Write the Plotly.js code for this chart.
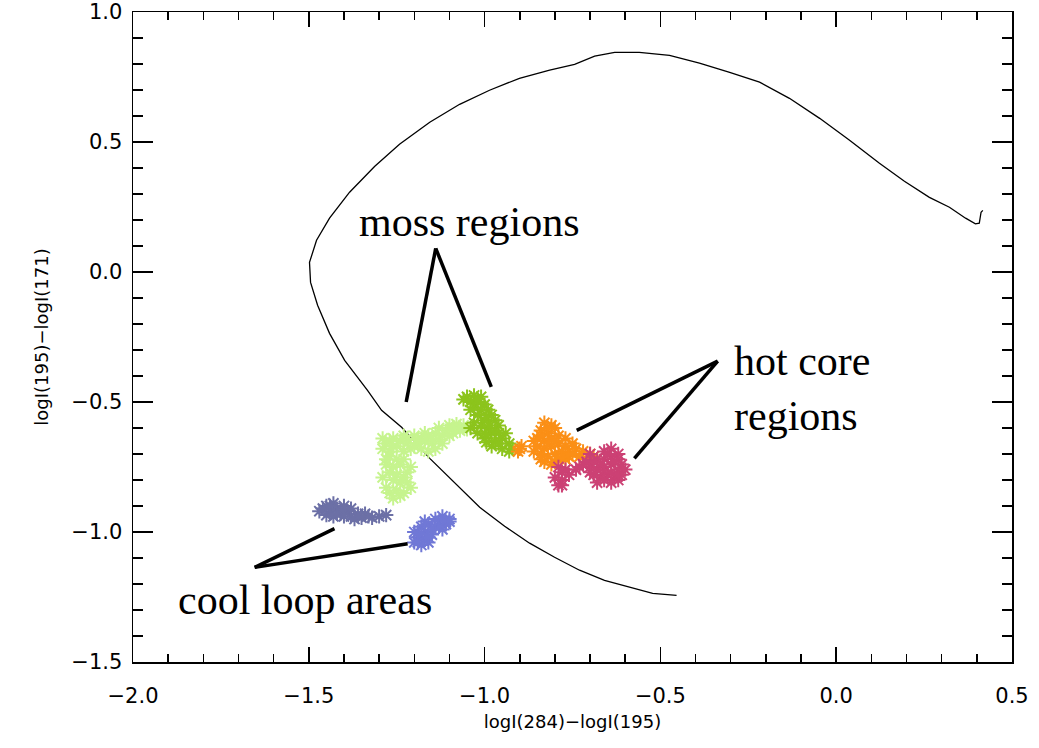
<!DOCTYPE html>
<html>
<head>
<meta charset="utf-8">
<script src="https://cdn.plot.ly/plotly-3.0.1.min.js"></script>
<style>html,body{margin:0;padding:0;background:#fff;}#chart{width:1039px;height:748px;}</style>
</head>
<body>
<div id="chart"></div>
<script>
// Model curve
const curveX = [0.417,0.412,0.407,0.396,0.368,0.322,0.265,0.194,0.123,0.038,-0.047,-0.133,-0.218,-0.303,-0.389,-0.474,-0.560,-0.630,-0.687,-0.744,-0.815,-0.901,-0.986,-1.071,-1.156,-1.242,-1.313,-1.384,-1.441,-1.478,-1.498,-1.495,-1.475,-1.441,-1.398,-1.333,-1.293,-1.236,-1.156,-1.085,-1.014,-0.943,-0.872,-0.801,-0.730,-0.659,-0.588,-0.522,-0.454];
const curveY = [0.237,0.230,0.188,0.185,0.207,0.249,0.287,0.349,0.418,0.507,0.591,0.668,0.730,0.768,0.803,0.833,0.845,0.845,0.830,0.799,0.776,0.745,0.699,0.645,0.576,0.491,0.406,0.307,0.207,0.122,0.037,-0.040,-0.128,-0.236,-0.340,-0.455,-0.532,-0.597,-0.717,-0.813,-0.905,-0.978,-1.043,-1.097,-1.147,-1.186,-1.213,-1.236,-1.244];

// Moss region (left, light green)
const mossAX = [-1.10,-1.08,-1.06,-1.07,-1.09,-1.11,-1.12,-1.14,-1.05,-1.16,-1.18,-1.20,-1.22,-1.24,-1.26,-1.28,-1.29,-1.27,-1.25,-1.22,-1.19,-1.17,-1.15,-1.13,-1.21,-1.18,-1.16,-1.14,-1.27,-1.25,-1.28,-1.26,-1.24,-1.27,-1.25,-1.23,-1.22,-1.26,-1.24,-1.25,-1.27,-1.23,-1.21,-1.28,
  -1.09,-1.07,-1.13,-1.15,-1.17,-1.19,-1.23,-1.27,-1.29,-1.26,-1.20,-1.23,-1.12,-1.10,-1.28,-1.23,-1.21,-1.29,-1.22,-1.26,-1.24];
const mossAY = [-0.59,-0.585,-0.59,-0.61,-0.62,-0.61,-0.63,-0.62,-0.605,-0.63,-0.64,-0.63,-0.64,-0.65,-0.64,-0.66,-0.68,-0.69,-0.67,-0.66,-0.66,-0.65,-0.66,-0.645,-0.68,-0.68,-0.69,-0.68,-0.71,-0.72,-0.74,-0.75,-0.74,-0.77,-0.78,-0.79,-0.77,-0.80,-0.81,-0.84,-0.85,-0.85,-0.83,-0.83,
  -0.60,-0.60,-0.60,-0.64,-0.62,-0.645,-0.63,-0.65,-0.64,-0.67,-0.67,-0.69,-0.66,-0.63,-0.72,-0.72,-0.75,-0.79,-0.81,-0.87,-0.86];
// Moss region (right, green)
const mossBX = [-1.05,-1.03,-1.01,-1.04,-1.02,-1.00,-1.03,-1.01,-0.99,-1.02,-0.98,-1.00,-0.97,-1.01,-0.99,-0.96,-1.02,-0.98,-0.96,-1.00,-0.97,-0.95,-0.93,-0.95,-0.93,-1.04,-0.995,
  -1.06,-1.02,-1.04,-0.995,-0.97,-0.94,-0.98,-0.96,-0.92,-1.03,-1.00,-0.985];
const mossBY = [-0.48,-0.475,-0.48,-0.50,-0.50,-0.51,-0.52,-0.53,-0.53,-0.55,-0.55,-0.57,-0.57,-0.59,-0.60,-0.59,-0.62,-0.62,-0.62,-0.64,-0.65,-0.64,-0.66,-0.68,-0.69,-0.60,-0.655,
  -0.49,-0.49,-0.53,-0.56,-0.61,-0.62,-0.67,-0.66,-0.68,-0.58,-0.62,-0.59];
// Hot core (orange)
const hotAX = [-0.90,-0.83,-0.81,-0.84,-0.82,-0.80,-0.85,-0.83,-0.81,-0.79,-0.77,-0.85,-0.83,-0.81,-0.79,-0.77,-0.75,-0.84,-0.82,-0.80,-0.78,-0.76,-0.74,-0.72,-0.70,-0.83,-0.81,-0.79,-0.73,-0.71,-0.69,-0.77,
  -0.86,-0.86,-0.84,-0.82,-0.80,-0.78,-0.76,-0.75,-0.82,-0.84,-0.80,-0.895,-0.905];
const hotAY = [-0.68,-0.58,-0.59,-0.61,-0.62,-0.60,-0.64,-0.65,-0.64,-0.63,-0.64,-0.67,-0.68,-0.67,-0.66,-0.67,-0.66,-0.70,-0.71,-0.70,-0.69,-0.69,-0.68,-0.69,-0.70,-0.73,-0.74,-0.72,-0.71,-0.72,-0.71,-0.72,
  -0.65,-0.69,-0.72,-0.66,-0.73,-0.71,-0.71,-0.70,-0.60,-0.63,-0.65,-0.67,-0.69];
// Hot core (magenta)
const hotBX = [-0.70,-0.66,-0.64,-0.62,-0.68,-0.66,-0.64,-0.62,-0.61,-0.72,-0.70,-0.68,-0.66,-0.64,-0.62,-0.61,-0.69,-0.67,-0.65,-0.63,-0.68,-0.64,-0.62,-0.79,-0.78,-0.80,-0.78,-0.76,-0.79,-0.74,
  -0.65,-0.63,-0.67,-0.69,-0.71,-0.66,-0.64,-0.62,-0.60,-0.66,-0.70,-0.77,-0.78,-0.73];
const hotBY = [-0.70,-0.69,-0.68,-0.70,-0.72,-0.72,-0.71,-0.72,-0.74,-0.74,-0.75,-0.76,-0.75,-0.74,-0.76,-0.78,-0.78,-0.79,-0.78,-0.79,-0.81,-0.81,-0.80,-0.75,-0.77,-0.79,-0.80,-0.78,-0.82,-0.76,
  -0.70,-0.73,-0.74,-0.73,-0.73,-0.77,-0.77,-0.78,-0.76,-0.80,-0.77,-0.76,-0.82,-0.75];
// Cool loops (slate)
const coolAX = [-1.47,-1.45,-1.43,-1.44,-1.42,-1.40,-1.41,-1.39,-1.38,-1.43,-1.45,-1.36,-1.35,-1.34,-1.32,-1.30,-1.28,-1.37,
  -1.46,-1.44,-1.42,-1.40,-1.38,-1.36,-1.33,-1.40];
const coolAY = [-0.92,-0.90,-0.89,-0.92,-0.91,-0.90,-0.93,-0.92,-0.94,-0.94,-0.935,-0.93,-0.945,-0.93,-0.945,-0.94,-0.935,-0.95,
  -0.91,-0.90,-0.93,-0.92,-0.91,-0.94,-0.94,-0.94];
// Cool loops (periwinkle)
const coolBX = [-1.12,-1.10,-1.11,-1.13,-1.14,-1.12,-1.16,-1.18,-1.20,-1.17,-1.15,-1.19,-1.17,-1.20,-1.18,-1.16,
  -1.11,-1.13,-1.15,-1.19,-1.18,-1.16,-1.19,-1.17,-1.14,-1.10];
const coolBY = [-0.94,-0.95,-0.97,-0.96,-0.98,-0.99,-0.97,-0.98,-1.00,-1.00,-1.01,-1.02,-1.03,-1.04,-1.05,-1.04,
  -0.96,-0.98,-0.99,-1.00,-1.01,-1.02,-1.04,-0.96,-0.95,-0.96];

const clusters = [
  {x: mossAX, y: mossAY, c: '#c6f48e'},
  {x: mossBX, y: mossBY, c: '#8cc41c'},
  {x: hotAX, y: hotAY, c: '#fb8f16'},
  {x: hotBX, y: hotBY, c: '#cc4174'},
  {x: coolAX, y: coolAY, c: '#6c70a6'},
  {x: coolBX, y: coolBY, c: '#7078d6'}
];

const traces = [{
  x: curveX, y: curveY, mode: 'lines', type: 'scatter',
  line: {color: '#000', width: 1.3}, hoverinfo: 'skip'
}];
clusters.forEach(cl => traces.push({
  x: cl.x, y: cl.y, mode: 'markers', type: 'scatter',
  marker: {symbol: 'asterisk-open', size: 12, color: cl.c, line: {color: cl.c, width: 2}}
}));

// annotation pointer lines
const pointers = [
  [-1.139, 0.091, -1.223, -0.500],
  [-1.139, 0.091, -0.981, -0.442],
  [-0.337, -0.343, -0.738, -0.609],
  [-0.337, -0.343, -0.574, -0.717],
  [-1.654, -1.136, -1.427, -0.987],
  [-1.654, -1.136, -1.219, -1.045]
];
const shapes = pointers.map(p => ({
  type: 'line', xref: 'x', yref: 'y', x0: p[0], y0: p[1], x1: p[2], y1: p[3],
  line: {color: '#000', width: 3.5}
}));

const serif = {family: 'Liberation Serif, Times New Roman, serif', size: 42, color: '#000'};
const annotations = [
  {x: -1.043, y: 0.191, text: 'moss regions', showarrow: false, xref: 'x', yref: 'y', font: serif, xanchor: 'center', yanchor: 'middle'},
  {x: -0.295, y: -0.447, text: 'hot core<br>regions', showarrow: false, xref: 'x', yref: 'y', font: serif, xanchor: 'left', yanchor: 'middle', align: 'left'},
  {x: -1.512, y: -1.263, text: 'cool loop areas', showarrow: false, xref: 'x', yref: 'y', font: serif, xanchor: 'center', yanchor: 'middle'}
];

const tickFont = {family: 'DejaVu Sans, sans-serif', size: 21, color: '#000'};
const axisCommon = {
  showline: true, linecolor: '#000', linewidth: 1.5, mirror: 'allticks',
  ticks: 'inside', tickcolor: '#000', tickwidth: 1.5,
  showgrid: false, zeroline: false, tickfont: tickFont, tickformat: '.1f',
  dtick: 0.5, tick0: 0
};

const layout = {
  width: 1039, height: 748,
  margin: {l: 133, r: 27, t: 12, b: 86},
  paper_bgcolor: '#fff', plot_bgcolor: '#fff',
  showlegend: false,
  xaxis: Object.assign({}, axisCommon, {
    range: [-2.0, 0.5], ticklen: 15, ticklabelstandoff: 14,
    minor: {dtick: 0.1, ticks: 'inside', ticklen: 8, tickcolor: '#000', tickwidth: 1.5, showgrid: false},
    title: {text: 'logI(284)−logI(195)', font: {family: 'DejaVu Sans, sans-serif', size: 18, color: '#000'}, standoff: 8}
  }),
  yaxis: Object.assign({}, axisCommon, {
    range: [-1.5, 1.0], ticklen: 20, ticklabelstandoff: 5,
    minor: {dtick: 0.1, ticks: 'inside', ticklen: 10, tickcolor: '#000', tickwidth: 1.5, showgrid: false},
    title: {text: 'logI(195)−logI(171)', font: {family: 'DejaVu Sans, sans-serif', size: 18, color: '#000'}, standoff: 18}
  }),
  shapes: shapes,
  annotations: annotations
};

Plotly.newPlot('chart', traces, layout, {staticPlot: true, displayModeBar: false});
</script>
</body>
</html>
